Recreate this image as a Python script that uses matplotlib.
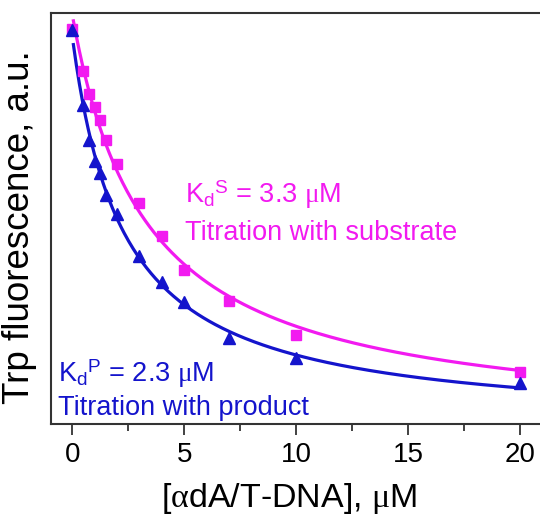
import numpy as np
import matplotlib
matplotlib.use("Agg")
from matplotlib import pyplot as plt
from matplotlib.ticker import MultipleLocator

plt.rcParams['font.family'] = ['Liberation Sans', 'DejaVu Sans']
plt.rcParams['mathtext.fontset'] = 'custom'
plt.rcParams['mathtext.rm'] = 'Liberation Serif'
plt.rcParams['mathtext.it'] = 'Liberation Serif'

# concentrations, uM
conc = [0, 0.5, 0.75, 1, 1.25, 1.5, 2, 3, 4, 5, 7, 10, 20]
# Trp fluorescence (a.u.)
substrate = [96.1, 85.9, 80.3, 77.1, 74.0, 69.1, 63.3, 53.8, 45.7, 37.5, 29.9, 21.7, 12.7]
product = [95.9, 77.6, 69.1, 64.0, 61.1, 55.7, 51.1, 40.9, 34.5, 29.7, 20.9, 16.1, 10.0]
kd_substrate = 3.3
kd_product = 2.3

magenta = '#F21AF0'
blue = '#1414CC'


def fit_curve(x, y, kd, xs):
    # F = F0 - dF * x / (Kd + x), least squares for F0 and dF
    x = np.asarray(x, float)
    frac = x / (kd + x)
    A = np.column_stack([np.ones_like(frac), -frac])
    (f0, df), *_ = np.linalg.lstsq(A, np.asarray(y, float), rcond=None)
    return f0 - df * xs / (kd + xs)


fig = plt.figure(figsize=(5.4, 5.15), dpi=100)
ax = fig.add_axes([51 / 540, 0.1767, 491.5 / 540, 0.798])

xs = np.linspace(0.05, 20, 300)
ax.plot(xs, fit_curve(conc, substrate, kd_substrate, xs), color=magenta, lw=2.3, zorder=2)
ax.plot(xs, fit_curve(conc, product, kd_product, xs), color=blue, lw=2.3, zorder=3)
ax.plot(conc, substrate, 's', color=magenta, ms=6.5, zorder=4)
ax.plot(conc, product, '^', color=blue, ms=8, zorder=5)

ax.set_xlim(-0.95, 21)
ax.set_ylim(0, 100)
ax.set_yticks([])
ax.xaxis.set_major_locator(MultipleLocator(5))
ax.xaxis.set_minor_locator(MultipleLocator(2.5))
ax.tick_params(axis='x', which='major', direction='out', length=8, width=1.3,
               labelsize=20, pad=5, color='#333333')
ax.tick_params(axis='x', which='minor', direction='out', length=5, width=1.3, color='#333333')
for s in ax.spines.values():
    s.set_linewidth(1.5)
    s.set_color('#333333')

ax.set_xlabel(r'[$\mathrm{\alpha}$dA/T-DNA], $\mathrm{\mu}$M', fontsize=24.5)
ax.xaxis.set_label_coords(0.485, -0.138)
ax.set_ylabel('Trp fluorescence, a.u.', fontsize=26.5)
ax.yaxis.set_label_coords(-0.029, 0.479)

ax.text(5.04, 53.8, r'K$_\mathregular{d}$$^\mathregular{S}$ = 3.3 $\mathrm{\mu}$M', color=magenta,
        fontsize=19.5, va='baseline', ha='left')
ax.text(5.04, 44.8, 'Titration with substrate', color=magenta,
        fontsize=19.5, va='baseline', ha='left')
ax.text(-0.63, 10.2, r'K$_\mathregular{d}$$^\mathregular{P}$ = 2.3 $\mathrm{\mu}$M', color=blue,
        fontsize=19.5, va='baseline', ha='left')
ax.text(-0.63, 2.2, 'Titration with product', color=blue,
        fontsize=19.5, va='baseline', ha='left')

fig.savefig('out.png', dpi=100)
